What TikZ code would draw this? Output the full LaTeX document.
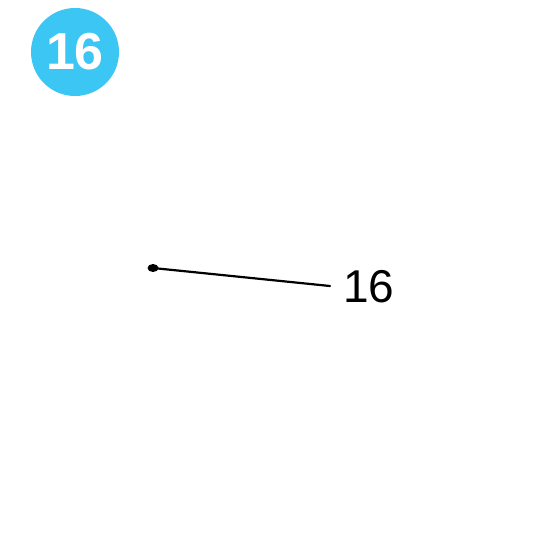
\documentclass[tikz,border=0pt]{standalone}
\usepackage{fontspec}
\setmainfont{Liberation Sans}
\definecolor{badge}{HTML}{3CC6F4}
\begin{document}
\begin{tikzpicture}[x=1pt,y=-1pt,
  badgetext/.style={text=white,font=\fontsize{52}{52}\selectfont\bfseries,inner sep=0pt},
  labeltext/.style={font=\fontsize{46}{46}\selectfont,inner sep=0pt,anchor=west},
  leader/.style={line width=2.2pt,line cap=round}]
\useasboundingbox (0,0) rectangle (550,550);
\fill[badge] (75,52) circle (44);
\node[badgetext] (badge) at (75,52) {16};
\fill (153,268) ellipse (5.5 and 4);
\coordinate (dot) at (153,268);
\node[labeltext] (lab) at (343,287) {16};
\coordinate (lineend) at (330,286);
\draw[leader] (dot) -- (lineend);
\end{tikzpicture}
\end{document}
